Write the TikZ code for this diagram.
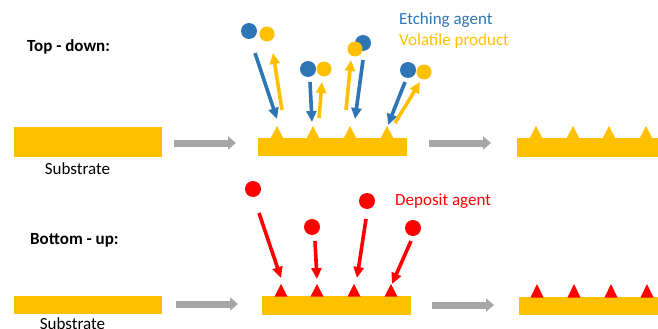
\documentclass[tikz,border=0pt]{standalone}
\usepackage{fontspec}
\setmainfont{Carlito}
\usetikzlibrary{arrows.meta}
\definecolor{subyel}{HTML}{FFC000}
\definecolor{etchblue}{HTML}{2E75B6}
\definecolor{deppred}{HTML}{FF0000}
\definecolor{procgray}{HTML}{A6A6A6}
\tikzset{
  substrate/.style={fill=subyel,draw=none,inner sep=0pt,outer sep=0pt},
  bluearr/.style={draw=etchblue,line width=3.6pt,-{Triangle[width=10pt,length=11pt]}},
  yelarr/.style={draw=subyel,line width=3.6pt,-{Triangle[width=10pt,length=11pt]}},
  redarr/.style={draw=deppred,line width=3.6pt,-{Triangle[width=10pt,length=11pt]}},
  procarr/.style={draw=procgray,line width=7pt,-{Triangle[width=13pt,length=8pt]}},
  blueball/.style={circle,fill=etchblue,inner sep=0pt,minimum size=16pt},
  yelball/.style={circle,fill=subyel,inner sep=0pt,minimum size=15pt},
  redball/.style={circle,fill=deppred,inner sep=0pt,minimum size=16pt},
  label/.style={font=\fontsize{17}{19}\selectfont,inner sep=0pt},
  heading/.style={font=\bfseries\fontsize{17}{19}\selectfont,inner sep=0pt,anchor=west},
}
\newcommand{\spikes}[5]{% #1 y base, #2 y peak, #3 color, #4 list of peaks, #5 half width
  \foreach \px in {#4} {\fill[#3] (\px-#5,#1) -- (\px,#2) -- (\px+#5,#1) -- cycle;}}
\begin{document}
\begin{tikzpicture}[x=1pt,y=-1pt]
\useasboundingbox (0,0) rectangle (658,329);
% ---------------- Top-down ----------------
\node[heading] (td) at (27,47) {Top - down:};
\node[substrate,minimum width=148pt,minimum height=30pt,anchor=north west] (s1) at (14,127) {};
\node[label] (s1l) at (77.5,169) {Substrate};
\node[substrate,minimum width=149pt,minimum height=18pt,anchor=north west] (s2) at (258,138) {};
\spikes{138.5}{126}{subyel}{277,313,350,387}{6.5}
\node[substrate,minimum width=141pt,minimum height=19pt,anchor=north west] (s3) at (517,138) {};
\spikes{138.5}{126}{subyel}{536,573,609,646}{6.5}
\coordinate (a1s) at (174,143); \coordinate (a1e) at (236,143);
\coordinate (a2s) at (429,143); \coordinate (a2e) at (491,143);
\draw[procarr] (a1s) -- (a1e);
\draw[procarr] (a2s) -- (a2e);
% balls
\node[blueball] (b1) at (249,31) {};
\node[yelball] (y1) at (267,34) {};
\node[blueball] (b2) at (308,69) {};
\node[yelball] (y2) at (324,69) {};
\node[blueball] (b3) at (363,43) {};
\node[yelball] (y3) at (355,49) {};
\node[blueball] (b4) at (408,70) {};
\node[yelball] (y4) at (424,72) {};
% arrows
\coordinate (bs1) at (255,53); \coordinate (be1) at (277,119);
\coordinate (ys1) at (282,110); \coordinate (ye1) at (273,53);
\coordinate (bs2) at (310,82); \coordinate (be2) at (312,122);
\coordinate (ys2) at (319,118); \coordinate (ye2) at (322,82);
\coordinate (ys3) at (346,110); \coordinate (ye3) at (351,60);
\coordinate (bs3) at (363,60); \coordinate (be3) at (355,119);
\coordinate (bs4) at (405,82); \coordinate (be4) at (388,125);
\coordinate (ys4) at (395,123); \coordinate (ye4) at (420,82);
\draw[bluearr] (bs1) -- (be1);
\draw[yelarr] (ys1) -- (ye1);
\draw[bluearr] (bs2) -- (be2);
\draw[yelarr] (ys2) -- (ye2);
\draw[yelarr] (ys3) -- (ye3);
\draw[bluearr] (bs3) -- (be3);
\draw[bluearr] (bs4) -- (be4);
\draw[yelarr] (ys4) -- (ye4);
\node[label,text=etchblue,anchor=west] (etl) at (399,20) {Etching agent};
\node[label,text=subyel,anchor=west] (vpl) at (399,41) {Volatile product};
% ---------------- Bottom-up ----------------
\node[heading] (bu) at (30,240) {Bottom - up:};
\node[substrate,minimum width=148pt,minimum height=18pt,anchor=north west] (t1) at (14,296) {};
\node[label] (t1l) at (72.5,324) {Substrate};
\node[substrate,minimum width=149pt,minimum height=19pt,anchor=north west] (t2) at (262,296) {};
\spikes{296.5}{284}{deppred}{281,317,354,391}{6.5}
\node[substrate,minimum width=139pt,minimum height=18pt,anchor=north west] (t3) at (519,297) {};
\spikes{297.5}{284}{deppred}{537,574,611,647}{6.5}
\coordinate (c1s) at (176,304); \coordinate (c1e) at (238,304);
\coordinate (c2s) at (432,305); \coordinate (c2e) at (494,305);
\draw[procarr] (c1s) -- (c1e);
\draw[procarr] (c2s) -- (c2e);
\node[redball] (r1) at (253,189) {};
\node[redball] (r2) at (312,227) {};
\node[redball] (r3) at (367,201) {};
\node[redball] (r4) at (413,228) {};
\coordinate (rs1) at (259,213); \coordinate (re1) at (281,278);
\coordinate (rs2) at (315,241); \coordinate (re2) at (317,279);
\coordinate (rs3) at (366,219); \coordinate (re3) at (357,278);
\coordinate (rs4) at (411,241); \coordinate (re4) at (392,284);
\draw[redarr] (rs1) -- (re1);
\draw[redarr] (rs2) -- (re2);
\draw[redarr] (rs3) -- (re3);
\draw[redarr] (rs4) -- (re4);
\node[label,text=deppred,anchor=west] (dal) at (395,201) {Deposit agent};
\end{tikzpicture}
\end{document}
